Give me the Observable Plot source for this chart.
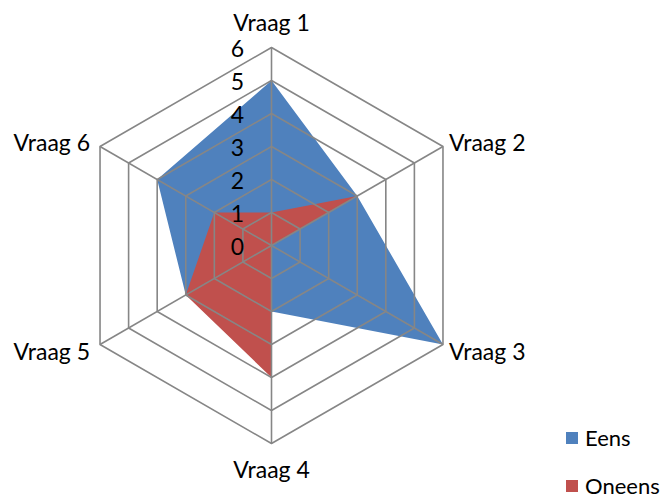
<!DOCTYPE html>
<html><head><meta charset="utf-8">
<script src="https://cdn.jsdelivr.net/npm/d3@7"></script>
<script src="https://cdn.jsdelivr.net/npm/@observablehq/plot@0.6"></script>
<style>
body{margin:0;background:#fff;font-family:Lato,sans-serif}
#wrap{position:relative;width:669px;height:498px}
.leg{position:absolute;left:566px;font-size:22px;display:flex;align-items:center;color:#000;font-family:Lato,sans-serif;white-space:nowrap}
.sw{width:12px;height:12px;margin-right:7px}
</style></head><body><div id="wrap"></div>
<script>
const categories = ["Vraag 1","Vraag 2","Vraag 3","Vraag 4","Vraag 5","Vraag 6"];
const eens = [5,3,6,2,3,4];
const oneens = [1,3,0,4,3,2];
const tickValues = [0,1,2,3,4,5,6];
const seriesNames = ["Eens","Oneens"];
const seriesColors = ["#4F81BD","#C0504D"];

const W = 669, H = 498, cx = 271, cy = 245, unit = 33;
const maxR = d3.max(tickValues);
const n = categories.length;
const ang = i => i * 2 * Math.PI / n;
const px = (r, i) => r * Math.sin(ang(i));
const py = (r, i) => r * Math.cos(ang(i));

const rings = [];
tickValues.filter(t => t > 0).forEach(t => categories.forEach((c, i) => rings.push({ring: t, x: px(t, i), y: py(t, i)})));
const spokes = categories.map((c, i) => ({x2: px(maxR, i), y2: py(maxR, i)}));
const seriesData = [eens, oneens].map(vals => vals.map((v, i) => ({x: px(v, i), y: py(v, i)})));
const catLabels = categories.map((c, i) => ({label: c, i, x: px(maxR, i), y: py(maxR, i)}));
const tickLabels = tickValues.map(t => ({t, x: 0, y: t}));

const grid = "#868686";
const chart = Plot.plot({
  width: W, height: H,
  margin: 0,
  x: {domain: [-cx / unit, (W - cx) / unit], range: [0, W], axis: null},
  y: {domain: [-(H - cy) / unit, cy / unit], range: [H, 0], axis: null},
  style: {fontFamily: "Lato, sans-serif", fontSize: "23px", background: "#fff"},
  marks: [
    ...seriesData.map((d, k) => Plot.line(d, {x: "x", y: "y", curve: "linear-closed", fill: seriesColors[k], stroke: "none"})),
    Plot.line(rings, {x: "x", y: "y", z: "ring", curve: "linear-closed", stroke: grid, strokeWidth: 1.6}),
    Plot.link(spokes, {x1: 0, y1: 0, x2: "x2", y2: "y2", stroke: grid, strokeWidth: 1.6}),
    Plot.text(tickLabels, {x: "x", y: "y", text: d => String(d.t), dx: -34, dy: 2, fill: "#000", textAnchor: "middle", fontSize: 23}),
    Plot.text(catLabels.filter(d => d.i === 0), {x: "x", y: "y", text: "label", dy: -24, textAnchor: "middle", fill: "#000", fontSize: 23}),
    Plot.text(catLabels.filter(d => d.i === n / 2), {x: "x", y: "y", text: "label", dy: 27, textAnchor: "middle", fill: "#000", fontSize: 23}),
    Plot.text(catLabels.filter(d => d.i === 1), {x: "x", y: "y", text: "label", dx: 6, dy: -3, textAnchor: "start", fill: "#000", fontSize: 23}),
    Plot.text(catLabels.filter(d => d.i === 2), {x: "x", y: "y", text: "label", dx: 6, dy: 8, textAnchor: "start", fill: "#000", fontSize: 23}),
    Plot.text(catLabels.filter(d => d.i === 4), {x: "x", y: "y", text: "label", dx: -10, dy: 8, textAnchor: "end", fill: "#000", fontSize: 23}),
    Plot.text(catLabels.filter(d => d.i === 5), {x: "x", y: "y", text: "label", dx: -10, dy: -3, textAnchor: "end", fill: "#000", fontSize: 23})
  ]
});
const wrap = document.getElementById("wrap");
wrap.appendChild(chart);
const legTops = [424, 472];
seriesNames.forEach((name, k) => {
  const el = document.createElement("div");
  el.className = "leg";
  el.style.top = legTops[k] + "px";
  el.innerHTML = `<div class="sw" style="background:${seriesColors[k]}"></div><span>${name}</span>`;
  wrap.appendChild(el);
});
</script>
</body></html>
